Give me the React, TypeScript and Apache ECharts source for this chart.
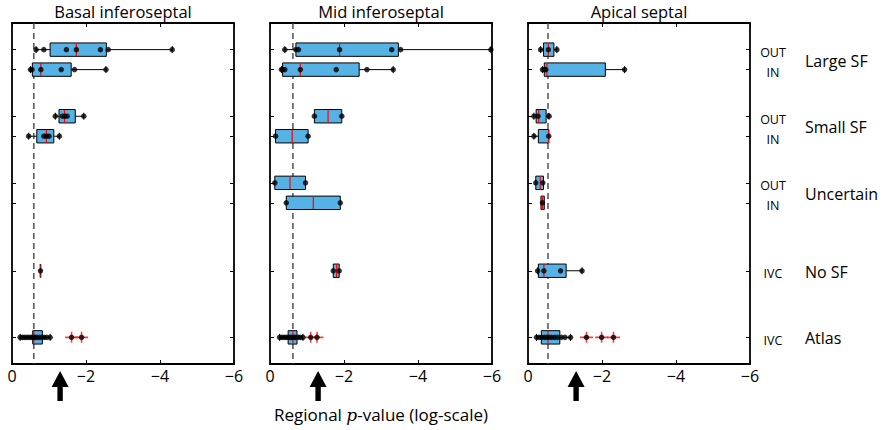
import React, { useEffect, useRef } from 'react';
import * as echarts from 'echarts';

// Regional log10 p-values, one panel per septal segment.
const panelTitles = ['Basal inferoseptal', 'Mid inferoseptal', 'Apical septal'];
const rowLabels = ['OUT', 'IN', 'OUT', 'IN', 'OUT', 'IN', 'IVC', 'IVC'];
const groupLabels = ['Large SF', 'Small SF', 'Uncertain', 'No SF', 'Atlas'];
const alphaLevel = -1.3; // log10(0.05)

// Row slots on the vertical axis (top to bottom) and group centres
const rowSlots = [0.4, 0.7, 1.4, 1.7, 2.4, 2.7, 3.72, 4.72];
const groupSlots = [0.55, 1.55, 2.55, 3.72, 4.72];
const Y_MAX = 5.12;

// Box summaries per row: [low whisker, q1, median, q3, high whisker]
const basalBoxes = [
  [-0.65, -1.03, -1.74, -2.55, -4.33],
  [-0.5, -0.55, -0.78, -1.6, -2.54],
  [-1.17, -1.27, -1.42, -1.71, -1.94],
  [-0.45, -0.67, -0.93, -1.13, -1.28],
  null,
  null,
  [-0.77, -0.77, -0.77, -0.77, -0.77],
  [-0.22, -0.56, -0.59, -0.82, -1.03],
];
const basalPoints = [
  [-0.65, -0.86, -1.47, -1.74, -2.39, -2.6, -4.33],
  [-0.5, -0.54, -0.78, -1.33, -1.69, -2.54],
  [-1.17, -1.36, -1.42, -1.49, -1.94],
  [-0.45, -0.86, -0.93, -1.0, -1.28],
  [],
  [],
  [-0.77],
  [-0.22, -0.28, -0.34, -0.4, -0.46, -0.52, -0.57, -0.62, -0.68, -0.74, -0.8, -0.87, -0.94, -1.03],
];
const basalOutliers = [[], [], [], [], [], [], [], [-1.61, -1.88]];

const midBoxes = [
  [-0.4, -0.7, -1.88, -3.47, -5.97],
  [-0.31, -0.34, -0.82, -2.41, -3.33],
  [-1.2, -1.2, -1.57, -1.94, -1.94],
  [-0.15, -0.15, -0.6, -1.03, -1.03],
  [-0.13, -0.13, -0.54, -0.96, -0.96],
  [-0.44, -0.44, -1.17, -1.9, -1.9],
  [-1.71, -1.71, -1.8, -1.87, -1.87],
  [-0.26, -0.49, -0.62, -0.73, -0.89],
];
const midPoints = [
  [-0.4, -0.7, -0.77, -1.88, -3.29, -3.53, -5.97],
  [-0.31, -0.34, -0.4, -0.82, -1.79, -2.62, -3.33],
  [-1.2, -1.94],
  [-0.15, -1.03],
  [-0.13, -0.96],
  [-0.44, -1.9],
  [-1.71, -1.87],
  [-0.26, -0.32, -0.38, -0.44, -0.5, -0.55, -0.6, -0.65, -0.7, -0.76, -0.82, -0.89],
];
const midOutliers = [[], [], [], [], [], [], [], [-1.1, -1.27]];

const apicalBoxes = [
  [-0.34, -0.42, -0.55, -0.7, -0.78],
  [-0.39, -0.44, -0.51, -2.09, -2.61],
  [-0.16, -0.22, -0.29, -0.49, -0.57],
  [-0.16, -0.28, -0.56, -0.56, -0.56],
  [-0.21, -0.21, -0.33, -0.42, -0.42],
  [-0.35, -0.35, -0.39, -0.44, -0.44],
  [-0.26, -0.28, -0.43, -1.03, -1.46],
  [-0.23, -0.36, -0.54, -0.86, -1.15],
];
const apicalPoints = [
  [-0.34, -0.55, -0.78],
  [-0.39, -0.44, -0.48, -2.61],
  [-0.16, -0.27, -0.57],
  [-0.16, -0.56],
  [-0.21, -0.4],
  [-0.39],
  [-0.26, -0.43, -0.88, -1.46],
  [-0.23, -0.3, -0.37, -0.44, -0.5, -0.57, -0.64, -0.72, -0.8, -0.9, -1.0, -1.15],
];
const apicalOutliers = [[], [], [], [], [], [], [], [-1.58, -1.99, -2.31]];

const panelBoxes = [basalBoxes, midBoxes, apicalBoxes];
const panelPoints = [basalPoints, midPoints, apicalPoints];
const panelOutliers = [basalOutliers, midOutliers, apicalOutliers];

const FONT = 'Open Sans';
const BOX_FILL = '#56B2E4';
const BOX_HALF = 6.7;
const CAP_HALF = 3.5;
const gridLefts = [12, 270, 528];
const GRID_TOP = 23;
const GRID_W = 222;
const GRID_H = 341;

const plusSymbol = 'path://M0,4.7L13,4.7L13,6.3L0,6.3Z M5.7,0L7.3,0L7.3,11L5.7,11Z';

function renderBox(params: any, api: any) {
  const y = api.value(0);
  const lo = api.coord([api.value(1), y]);
  const q1 = api.coord([api.value(2), y])[0];
  const med = api.coord([api.value(3), y])[0];
  const q3 = api.coord([api.value(4), y])[0];
  const hi = api.coord([api.value(5), y])[0];
  const xLo = lo[0];
  const yc = lo[1];
  const children: any[] = [];
  const lineStyle = { stroke: '#000', lineWidth: 1 };
  if (Math.abs(q1 - xLo) > 0.5) {
    children.push({ type: 'line', shape: { x1: xLo, y1: yc, x2: q1, y2: yc }, style: lineStyle });
    children.push({ type: 'line', shape: { x1: xLo, y1: yc - CAP_HALF, x2: xLo, y2: yc + CAP_HALF }, style: lineStyle });
  }
  if (Math.abs(hi - q3) > 0.5) {
    children.push({ type: 'line', shape: { x1: q3, y1: yc, x2: hi, y2: yc }, style: lineStyle });
    children.push({ type: 'line', shape: { x1: hi, y1: yc - CAP_HALF, x2: hi, y2: yc + CAP_HALF }, style: lineStyle });
  }
  const bx = Math.min(q1, q3);
  const bw = Math.abs(q3 - q1);
  children.push({
    type: 'rect',
    shape: { x: bx, y: yc - BOX_HALF, width: bw, height: BOX_HALF * 2 },
    style: { fill: BOX_FILL, stroke: '#000', lineWidth: 1 },
  });
  children.push({
    type: 'line',
    shape: { x1: med, y1: yc - BOX_HALF, x2: med, y2: yc + BOX_HALF },
    style: { stroke: bw < 1.5 ? '#9a1010' : '#ff0000', lineWidth: bw < 1.5 ? 1.8 : 1.2 },
  });
  return { type: 'group', children };
}

const fmtX = (v: number) => (v === 0 ? '0' : '\u2212' + Math.abs(v));

export default function App() {
  const ref = useRef<HTMLDivElement>(null);

  useEffect(() => {
    if (!ref.current) return;
    const chart = echarts.init(ref.current, null, { renderer: 'svg' });

    const grid: any[] = [];
    const xAxis: any[] = [];
    const yAxis: any[] = [];
    const series: any[] = [];

    for (let i = 0; i < 3; i++) {
      grid.push({
        left: gridLefts[i],
        top: GRID_TOP,
        width: GRID_W,
        height: GRID_H,
        containLabel: false,
        outerBoundsMode: 'none',
      });
      const baseX = {
        type: 'value',
        gridIndex: i,
        min: -6,
        max: 0,
        interval: 2,
        inverse: true,
        splitLine: { show: false },
        axisLine: { show: true, onZero: false, lineStyle: { color: '#000', width: 1.8 } },
        axisTick: { show: true, inside: true, length: 4, lineStyle: { color: '#000', width: 1 } },
      };
      xAxis.push({
        ...baseX,
        position: 'bottom',
        axisLabel: { show: true, formatter: fmtX, fontSize: 16, color: '#000', margin: 4, fontFamily: FONT },
        ...(i === 1
          ? {
              name: 'Regional {i|p}-value (log-scale)',
              nameLocation: 'middle',
              nameGap: 42,
              nameTextStyle: {
                fontSize: 17,
                color: '#000',
                fontFamily: FONT,
                rich: { i: { fontFamily: 'DejaVu Serif', fontStyle: 'italic', fontSize: 17, color: '#000' } },
              },
            }
          : {}),
      });
      xAxis.push({
        ...baseX,
        position: 'top',
        axisLabel: { show: false },
        name: panelTitles[i],
        nameLocation: 'middle',
        nameGap: 3,
        nameTextStyle: { fontSize: 16.5, color: '#000', fontFamily: FONT },
      });
      const baseY = {
        type: 'value',
        gridIndex: i,
        min: 0,
        max: Y_MAX,
        inverse: true,
        splitLine: { show: false },
        axisLine: { show: true, onZero: false, lineStyle: { color: '#000', width: 1.8 } },
        axisTick: { show: true, inside: true, length: 4, customValues: rowSlots, lineStyle: { color: '#000', width: 1 } },
        axisLabel: { show: false },
      };
      yAxis.push({ ...baseY, position: 'left' });
      yAxis.push({ ...baseY, position: 'right' });

      const boxes = panelBoxes[i];
      const boxData: any[] = [];
      boxes.forEach((b, r) => {
        if (b) boxData.push([rowSlots[r], ...b]);
      });
      const atlasMedian = (boxes[7] as number[])[2];

      // Reference line at the Atlas median
      series.push({
        type: 'line',
        xAxisIndex: 2 * i,
        yAxisIndex: 2 * i,
        data: [
          [atlasMedian, 0],
          [atlasMedian, Y_MAX],
        ],
        symbol: 'none',
        silent: true,
        z: 1,
        lineStyle: { color: '#444', width: 1.4, type: [6, 4] },
      });
      series.push({
        type: 'custom',
        xAxisIndex: 2 * i,
        yAxisIndex: 2 * i,
        data: boxData,
        encode: { x: [1, 2, 3, 4, 5], y: 0 },
        renderItem: renderBox,
        z: 2,
      });
      const outlierData: any[] = [];
      panelOutliers[i].forEach((arr, r) => arr.forEach((v) => outlierData.push([v, rowSlots[r]])));
      series.push({
        type: 'scatter',
        xAxisIndex: 2 * i,
        yAxisIndex: 2 * i,
        data: outlierData,
        symbol: plusSymbol,
        symbolSize: [13, 11],
        symbolKeepAspect: false,
        itemStyle: { color: '#ff2020', opacity: 0.85 },
        z: 3,
      });
      const pointData: any[] = [];
      panelPoints[i].forEach((arr, r) => arr.forEach((v) => pointData.push([v, rowSlots[r]])));
      panelOutliers[i].forEach((arr, r) => arr.forEach((v) => pointData.push([v, rowSlots[r]])));
      series.push({
        type: 'scatter',
        xAxisIndex: 2 * i,
        yAxisIndex: 2 * i,
        data: pointData,
        symbol: 'circle',
        symbolSize: 5.5,
        itemStyle: { color: '#000' },
        z: 4,
      });
    }

    chart.setOption({
      animation: false,
      backgroundColor: '#fff',
      textStyle: { fontFamily: FONT },
      grid,
      xAxis,
      yAxis,
      series,
    });

    const graphic: any[] = [];
    // Arrows marking p = 0.05 under each panel
    for (let i = 0; i < 3; i++) {
      const px = chart.convertToPixel({ xAxisIndex: 2 * i }, alphaLevel) as number;
      const top = GRID_TOP + GRID_H + 7;
      graphic.push({
        type: 'polygon',
        shape: {
          points: [
            [px, top],
            [px + 8.5, top + 16],
            [px + 2.7, top + 16],
            [px + 2.7, top + 30],
            [px - 2.7, top + 30],
            [px - 2.7, top + 16],
            [px - 8.5, top + 16],
          ],
        },
        style: { fill: '#000' },
      });
    }
    // Row and group names beside the last panel
    const rightEdge = gridLefts[2] + GRID_W;
    rowLabels.forEach((label, r) => {
      const py = chart.convertToPixel({ yAxisIndex: 5 }, rowSlots[r]) as number;
      graphic.push({
        type: 'text',
        x: rightEdge + 23,
        y: py + 3,
        style: {
          text: label,
          fontSize: 12.5,
          fontFamily: FONT,
          fill: '#000',
          textAlign: 'center',
          textVerticalAlign: 'middle',
        },
      });
    });
    groupLabels.forEach((label, g) => {
      const py = chart.convertToPixel({ yAxisIndex: 5 }, groupSlots[g]) as number;
      graphic.push({
        type: 'text',
        x: rightEdge + 55,
        y: py + 1,
        style: {
          text: label,
          fontSize: 16,
          fontFamily: FONT,
          fill: '#000',
          textAlign: 'left',
          textVerticalAlign: 'middle',
        },
      });
    });
    chart.setOption({ graphic });

    return () => chart.dispose();
  }, []);

  return <div ref={ref} style={{ position: 'fixed', left: 0, top: 0, width: 884, height: 430 }} />;
}
